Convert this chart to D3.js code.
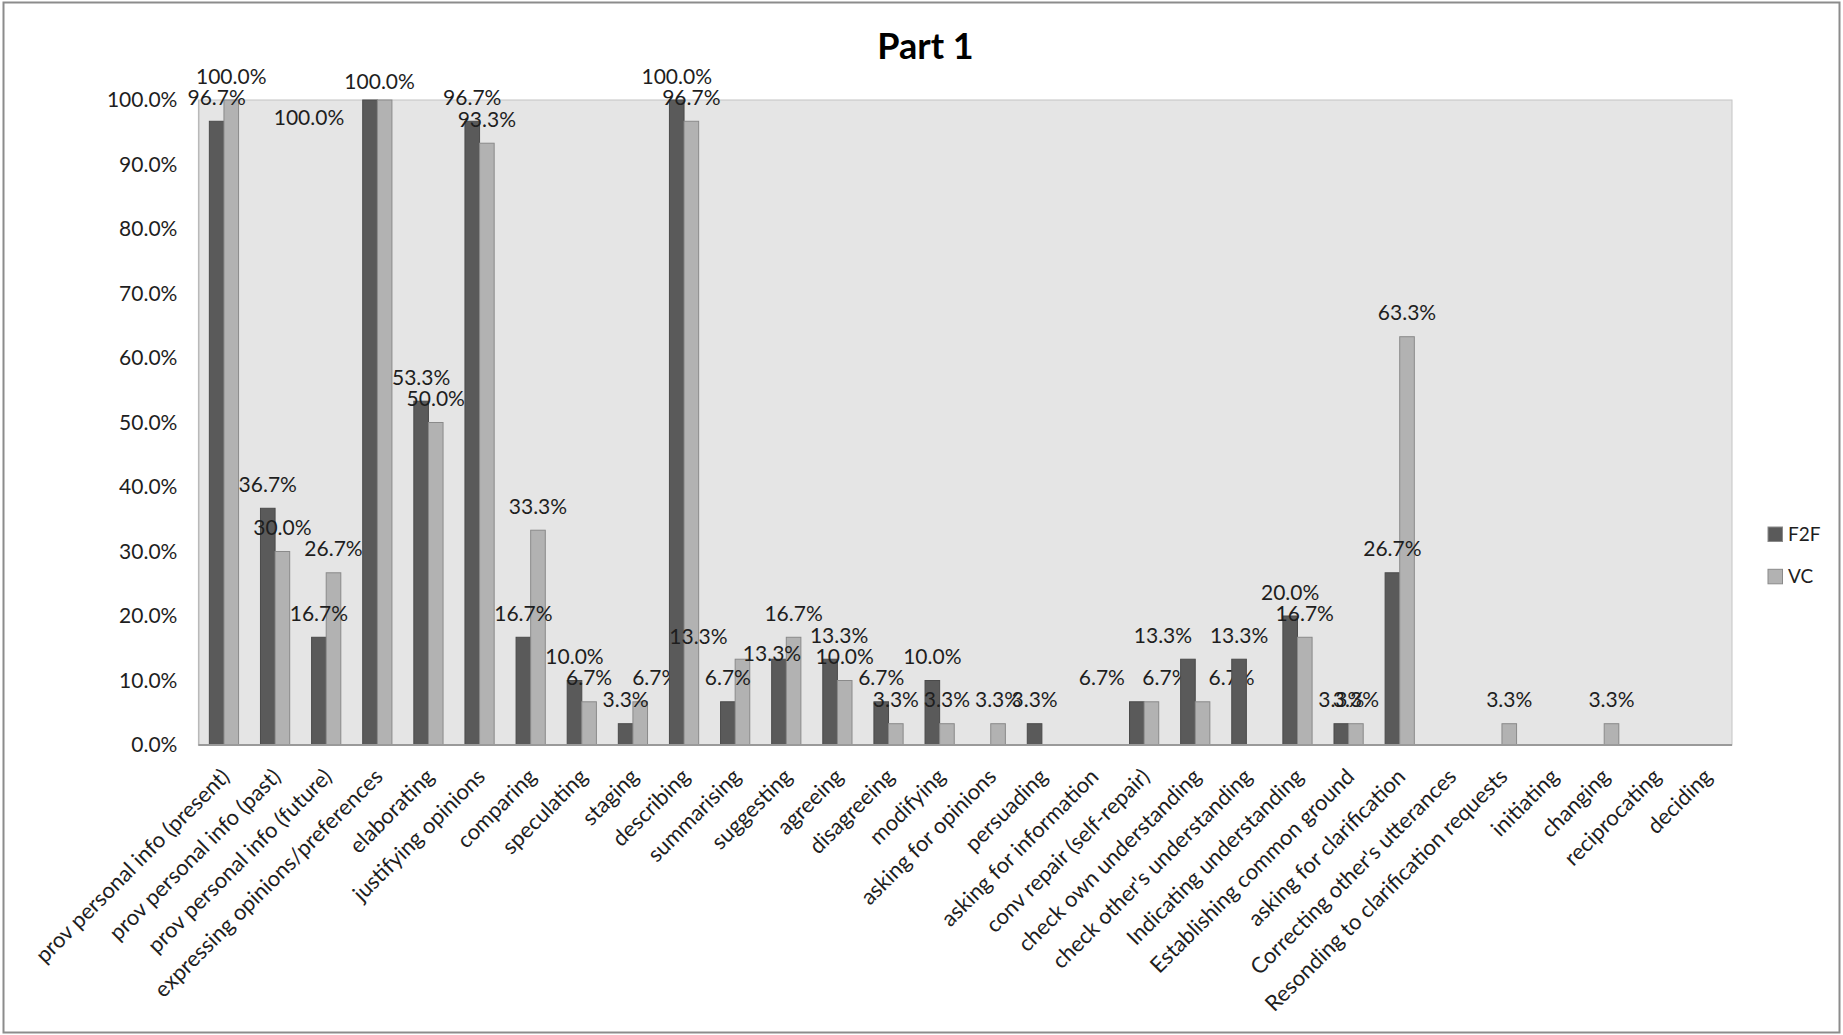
<!DOCTYPE html>
<html>
<head>
<meta charset="utf-8">
<script src="https://cdn.jsdelivr.net/npm/d3@7"></script>
<style>
  html, body { margin: 0; padding: 0; background: #fff; }
  svg { display: block; }
  text { font-family: Lato, "Open Sans", sans-serif; fill: #1e1e1e; }
</style>
</head>
<body>
<svg id="chart" width="1843" height="1035"></svg>
<script>
// ---------- data ----------
const title = "Part 1";
const categories = [
  "prov personal info (present)",
  "prov personal info (past)",
  "prov personal info (future)",
  "expressing opinions/preferences",
  "elaborating",
  "justifying opinions",
  "comparing",
  "speculating",
  "staging",
  "describing",
  "summarising",
  "suggesting",
  "agreeing",
  "disagreeing",
  "modifying",
  "asking for opinions",
  "persuading",
  "asking for information",
  "conv repair (self-repair)",
  "check own understanding",
  "check other's understanding",
  "Indicating understanding",
  "Establishing common ground",
  "asking for clarification",
  "Correcting other's utterances",
  "Resonding to clarification requests",
  "initiating",
  "changing",
  "reciprocating",
  "deciding"
];
const seriesNames = ["F2F", "VC"];
const f2fValues = [96.7, 36.7, 16.7, 100, 53.3, 96.7, 16.7, 10.0, 3.3, 100, 6.7, 13.3, 13.3, 6.7, 10.0, 0, 3.3, 0, 6.7, 13.3, 13.3, 20.0, 3.3, 26.7, 0, 0, 0, 0, 0, 0];
const vcValues  = [100, 30.0, 26.7, 100, 50.0, 93.3, 33.3, 6.7, 6.7, 96.7, 13.3, 16.7, 10.0, 3.3, 3.3, 3.3, 0, 0, 6.7, 6.7, 0, 16.7, 3.3, 63.3, 0, 3.3, 0, 3.3, 0, 0];
const yTicks = [0, 10, 20, 30, 40, 50, 60, 70, 80, 90, 100];

// manual label nudges as in the original chart (series:index -> [dx, dy])
const labelNudges = {
  "F2F:3": [-61, 41], "VC:3": [-5, 5],
  "VC:8": [15, 0],
  "VC:10": [-44, 1],
  "F2F:11": [-7, 18],
  "F2F:12": [9, 0],
  "F2F:18": [-35, 0], "VC:18": [14, 0],
  "F2F:19": [-25, 0], "VC:19": [29, 0]
};

// ---------- layout ----------
const W = 1843, H = 1035;
const plot = { left: 198.4, right: 1732, top: 100, bottom: 745 };
const colors = { F2F: "#5a5a5a", VC: "#b2b2b2" };

const svg = d3.select("#chart");

// outer frame
svg.append("rect")
  .attr("x", 3.5).attr("y", 2.5).attr("width", W - 7).attr("height", H - 5)
  .attr("fill", "#fff").attr("stroke", "#8c8c8c").attr("stroke-width", 2);

const x0 = d3.scaleBand().domain(categories).range([plot.left, plot.right]).paddingInner(0).paddingOuter(0);
const x1 = d3.scaleBand().domain(seriesNames).range([0, x0.bandwidth()]).paddingInner(0).paddingOuter(0.75);
const y = d3.scaleLinear().domain([0, 100]).range([plot.bottom, plot.top]);

// plot area
svg.append("rect")
  .attr("x", plot.left).attr("y", plot.top)
  .attr("width", plot.right - plot.left).attr("height", plot.bottom - plot.top)
  .attr("fill", "#e5e5e5").attr("stroke", "#c4c4c4").attr("stroke-width", 1);

// title
svg.append("text")
  .attr("x", 925.5).attr("y", 59)
  .attr("text-anchor", "middle")
  .style("font-weight", "bold").style("font-size", "36px").style("fill", "#000")
  .text(title);

// y axis
const yAxis = d3.axisLeft(y).tickValues(yTicks).tickSize(0).tickPadding(21)
  .tickFormat(d => d.toFixed(1) + "%");
const gy = svg.append("g").attr("transform", `translate(${plot.left},0)`).call(yAxis);
gy.select(".domain").attr("stroke", "#b0b0b0");
gy.selectAll("text").style("font-size", "21px").attr("fill", "#1e1e1e").style("font-family", "Lato, sans-serif");

// bars
const rows = categories.map((c, i) => ({ cat: c, i, F2F: f2fValues[i], VC: vcValues[i] }));
const groups = svg.append("g").selectAll("g").data(rows).join("g")
  .attr("transform", d => `translate(${x0(d.cat)},0)`);

groups.selectAll("rect").data(d => seriesNames.map(s => ({ s, v: d[s], i: d.i })).filter(e => e.v > 0))
  .join("rect")
  .attr("x", e => x1(e.s))
  .attr("y", e => y(e.v))
  .attr("width", x1.bandwidth())
  .attr("height", e => y(0) - y(e.v))
  .attr("fill", e => colors[e.s])
  .attr("stroke", e => e.s === "F2F" ? "#4a4a4a" : "#8a8a8a")
  .attr("stroke-width", 1);

// x axis line
svg.append("line")
  .attr("x1", plot.left).attr("x2", plot.right)
  .attr("y1", plot.bottom).attr("y2", plot.bottom)
  .attr("stroke", "#9a9a9a").attr("stroke-width", 2);

// data labels
groups.selectAll("text.lbl").data(d => seriesNames.map(s => ({ s, v: d[s], i: d.i })).filter(e => e.v > 0))
  .join("text").attr("class", "lbl")
  .attr("x", e => x1(e.s) + x1.bandwidth() / 2 + (labelNudges[e.s + ":" + e.i] || [0, 0])[0])
  .attr("y", e => y(e.v) - 16.5 + (labelNudges[e.s + ":" + e.i] || [0, 0])[1])
  .attr("text-anchor", "middle")
  .style("font-size", "21px")
  .text(e => e.v.toFixed(1) + "%");

// category labels
svg.append("g").selectAll("text").data(categories).join("text")
  .attr("transform", c => `translate(${x0(c) + x0.bandwidth() / 2 + 7},778) rotate(-45)`)
  .attr("text-anchor", "end")
  .style("font-size", "22px")
  .text(c => c);

// legend
const legend = svg.append("g").selectAll("g").data(seriesNames).join("g")
  .attr("transform", (s, k) => `translate(1768,${527 + k * 42.3})`);
legend.append("rect").attr("width", 14.5).attr("height", 14.5)
  .attr("fill", s => colors[s]).attr("stroke", "#8a8a8a").attr("stroke-width", 1);
legend.append("text").attr("x", 20).attr("y", 14)
  .style("font-size", "19px")
  .text(s => s);
</script>
</body>
</html>
